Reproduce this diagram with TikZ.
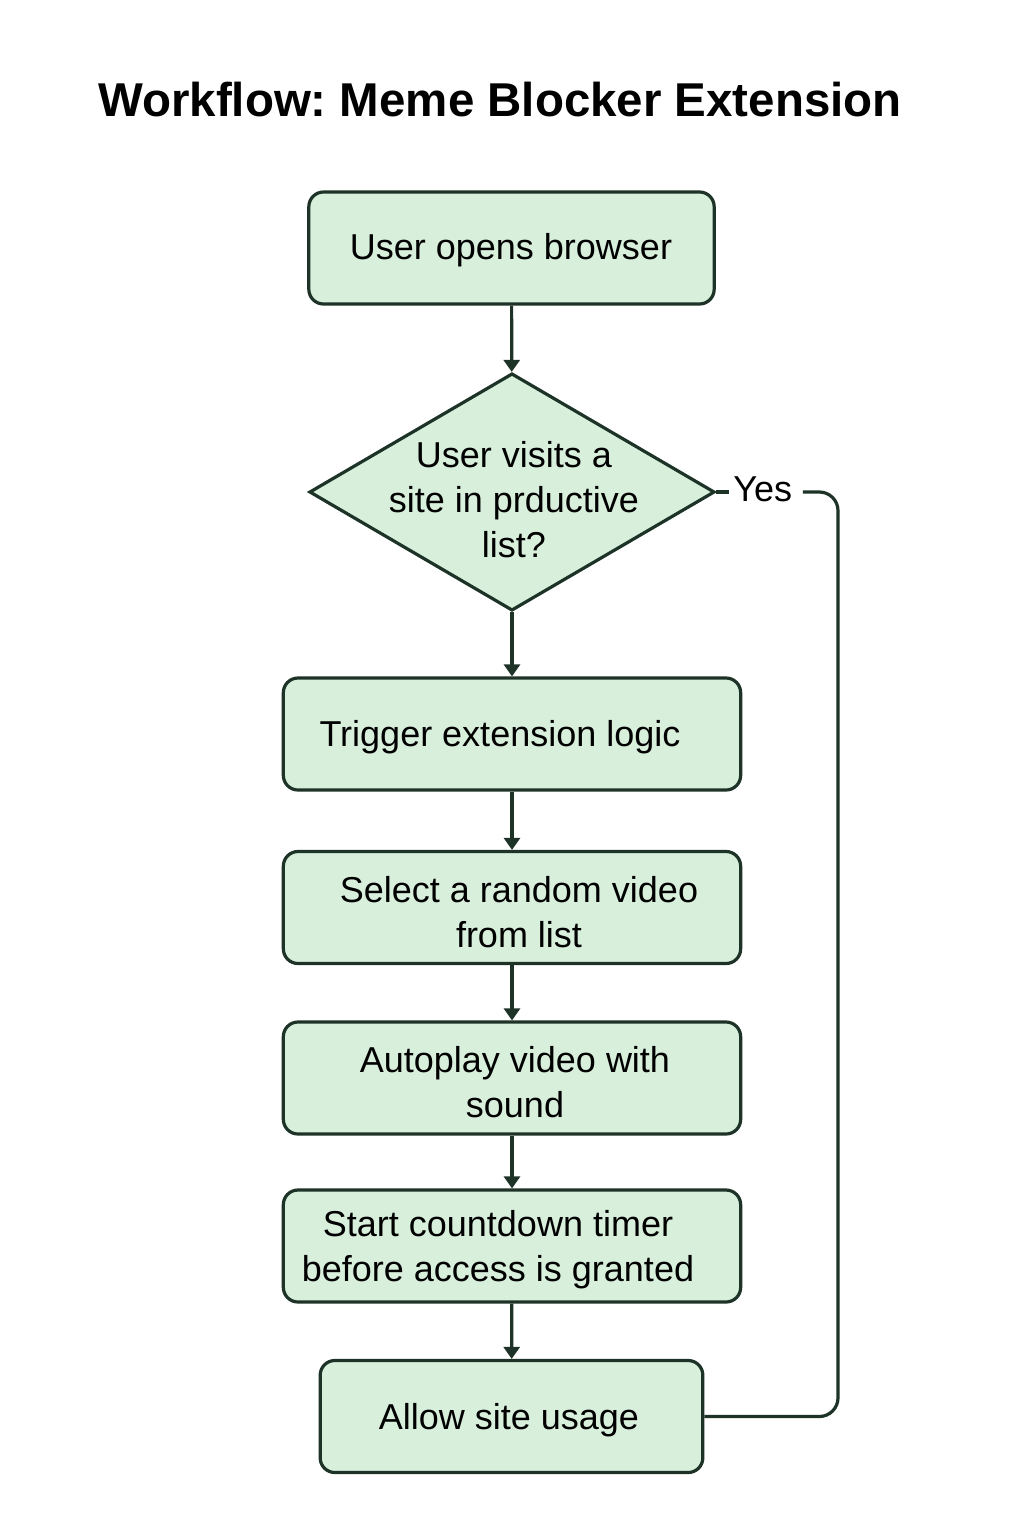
\documentclass[tikz,border=0pt]{standalone}
\usepackage{fontspec}
\setmainfont{Liberation Sans}
\usetikzlibrary{shapes.geometric,arrows.meta}
\definecolor{boxfill}{HTML}{D8EFDC}
\definecolor{boxline}{HTML}{1E3327}
\frenchspacing
\begin{document}
\begin{tikzpicture}[x=0.75pt,y=-0.75pt,
  stepbox/.style={draw=boxline,fill=boxfill,line width=2.4pt,rounded corners=11pt,
    minimum height=84pt,align=center,font=\fontsize{27.5}{34.5}\selectfont,inner sep=0pt},
  decision/.style={draw=boxline,fill=boxfill,line width=2.4pt,shape=diamond,
    minimum width=304pt,minimum height=178pt,inner sep=0pt},
  flow/.style={draw=boxline,line width=2.4pt,-{Triangle[width=12pt,length=9pt]}},
  plainline/.style={draw=boxline,line width=2.4pt,rounded corners=14pt},
  lbl/.style={font=\fontsize{27}{34}\selectfont,inner sep=1pt,text=black}]
\useasboundingbox (0,0) rectangle (1024,1536);
\fill[white] (0,0) rectangle (1024,1536);

\node[font=\fontsize{35.6}{42}\selectfont\bfseries,anchor=center] (title) at (500,100)
  {Workflow: Meme Blocker Extension};

\node[stepbox,minimum width=304pt] (open) at (511.5,248) {};
\node[lbl] (opentext) at (511,250) {User opens browser};
\node[decision] (visit) at (512,492) {};
\node[lbl,align=center,font=\fontsize{27}{33.7}\selectfont] (visittext) at (514,500)
  {User visits a\\site in prductive\\list?};
\node[stepbox,minimum width=343pt] (trigger) at (512,734) {};
\node[lbl] (triggertext) at (500,737) {Trigger extension logic};
\node[stepbox,minimum width=343pt] (select) at (512,907.5) {};
\node[lbl,align=center] (selecttext) at (519,912) {Select a random video\\from list};
\node[stepbox,minimum width=343pt] (autoplay) at (512,1078) {};
\node[lbl,align=center] (autoplaytext) at (515,1082) {Autoplay video with\\sound};
\node[stepbox,minimum width=343pt] (timer) at (512,1246) {};
\node[lbl,align=center] (timertext) at (498,1250) {Start countdown timer\\before access is granted};
\node[stepbox,minimum width=287pt] (allow) at (511.5,1416.5) {};
\node[lbl] (allowtext) at (509,1420) {Allow site usage};

\draw[flow] (open) -- (visit);
\draw[flow] (visit) -- (trigger);
\draw[flow] (trigger) -- (select);
\draw[flow] (select) -- (autoplay);
\draw[flow] (autoplay) -- (timer);
\draw[flow] (timer) -- (allow);

\node[lbl,anchor=west,inner xsep=3pt] (yes) at (729,489) {Yes};
\coordinate (corner) at (838,492);
\draw[plainline] (visit.east) -- (visit.east -| yes.west);
\draw[plainline] ([xshift=5pt]yes.east |- visit.east) -- (corner) |- (allow.east);
\end{tikzpicture}
\end{document}
